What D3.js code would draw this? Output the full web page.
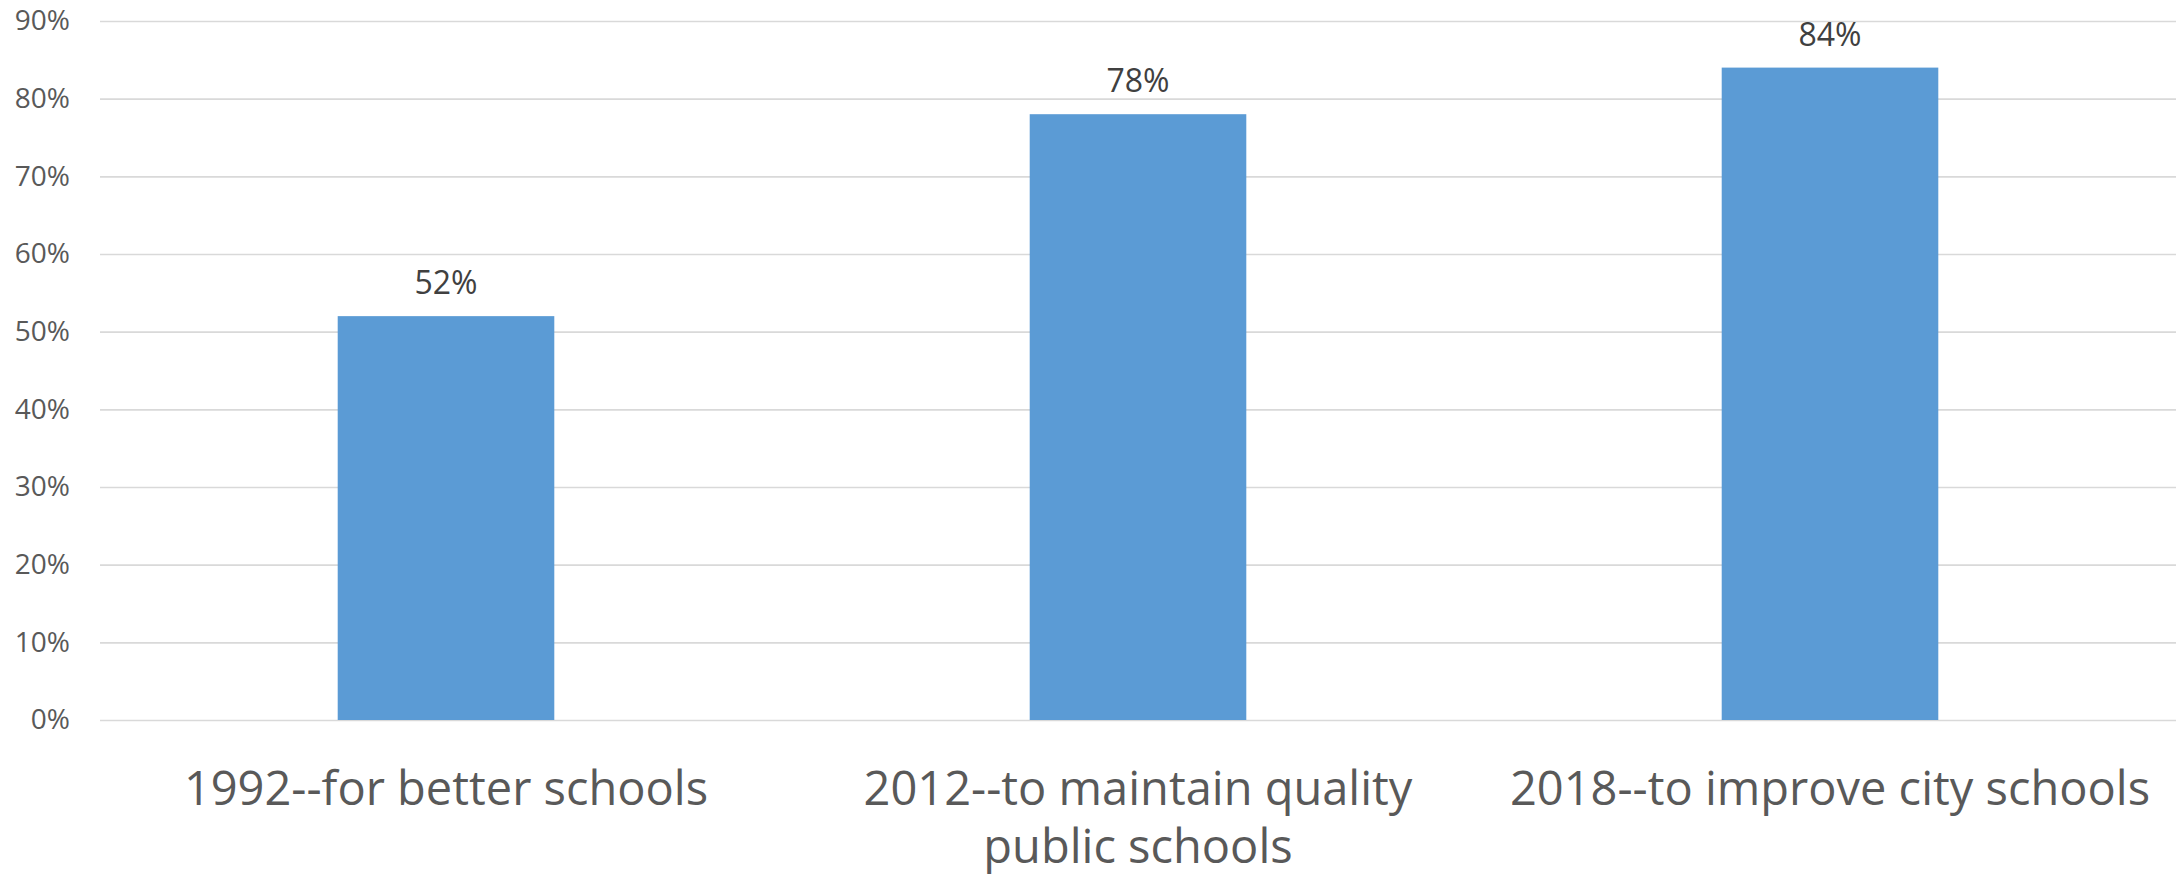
<!DOCTYPE html>
<html>
<head>
<meta charset="utf-8">
<script src="https://cdn.jsdelivr.net/npm/d3@7"></script>
<style>
  html, body { margin: 0; padding: 0; background: #ffffff; }
  svg { display: block; }
</style>
</head>
<body>
<svg id="chart" width="2183" height="879"></svg>
<script>
const categories = [
  "1992--for better schools",
  "2012--to maintain quality public schools",
  "2018--to improve city schools"
];
const values = [0.52, 0.78, 0.84];
const yTicks = [0, 0.1, 0.2, 0.3, 0.4, 0.5, 0.6, 0.7, 0.8, 0.9];

const W = 2183, H = 879;
const plot = { left: 100, right: 2176, top: 21, bottom: 720 };
const svg = d3.select("#chart");
const FONT = "'Open Sans', 'Noto Sans', sans-serif";

const x = d3.scaleBand()
  .domain(categories)
  .range([plot.left, plot.right])
  .paddingInner(0.687)
  .paddingOuter(0.687 / 2);

const y = d3.scaleLinear()
  .domain([0, 0.9])
  .range([plot.bottom, plot.top]);

// gridlines
const yAxis = d3.axisLeft(y)
  .tickValues(yTicks)
  .tickFormat(d3.format(".0%"))
  .tickSize(-(plot.right - plot.left))
  .tickPadding(30);

const gy = svg.append("g")
  .attr("transform", `translate(${plot.left},0)`)
  .call(yAxis);
gy.select(".domain").remove();
gy.selectAll(".tick line")
  .attr("stroke", "#d9d9d9")
  .attr("stroke-width", 1.6);
gy.selectAll(".tick text")
  .attr("fill", "#595959")
  .style("font-family", FONT)
  .style("font-size", "28px");

// bars
svg.append("g").selectAll("rect")
  .data(values)
  .join("rect")
  .attr("x", (d, i) => x(categories[i]))
  .attr("y", d => y(d))
  .attr("width", x.bandwidth())
  .attr("height", d => y(0) - y(d))
  .attr("fill", "#5b9bd5");

// data labels
svg.append("g").selectAll("text")
  .data(values)
  .join("text")
  .attr("x", (d, i) => x(categories[i]) + x.bandwidth() / 2)
  .attr("y", d => y(d) - 22)
  .attr("text-anchor", "middle")
  .attr("fill", "#404040")
  .style("font-family", FONT)
  .style("font-size", "32px")
  .text(d => d3.format(".0%")(d));

// category labels with wrapping
const xAxis = d3.axisBottom(x).tickSize(0).tickPadding(0);
const gx = svg.append("g")
  .attr("transform", `translate(0,${plot.bottom})`)
  .call(xAxis);
gx.select(".domain").remove();
gx.selectAll(".tick text")
  .attr("fill", "#595959")
  .style("font-family", FONT)
  .style("font-size", "47px")
  .attr("y", 0)
  .attr("dy", 0)
  .each(function(d) {
    const text = d3.select(this);
    const words = d.split(/\s+/);
    const maxW = x.step() - 20;
    text.text(null);
    let lines = [];
    let line = [];
    let tspan = text.append("tspan").attr("x", 0).attr("y", 85);
    for (const w of words) {
      line.push(w);
      tspan.text(line.join(" "));
      if (tspan.node().getComputedTextLength() > maxW && line.length > 1) {
        line.pop();
        tspan.text(line.join(" "));
        line = [w];
        tspan = text.append("tspan").attr("x", 0).attr("dy", 58).text(w);
      }
    }
  });
</script>
</body>
</html>
